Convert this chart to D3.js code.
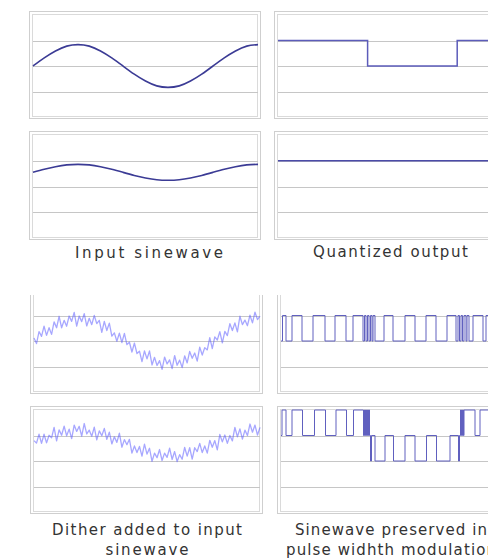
<!DOCTYPE html>
<html>
<head>
<meta charset="utf-8">
<script src="https://cdn.jsdelivr.net/npm/d3@7"></script>
<style>
  html, body { margin: 0; padding: 0; background: #fff; }
  svg { display: block; }
  .caption { font-family: "DejaVu Sans", sans-serif; fill: #333; }
</style>
</head>
<body>
<script>
/*
 * Dither / quantization illustration, 4 rows x 2 columns of small plots
 */

// x = phase in degrees (1.25 cycles per panel), y = quantizer level
const phaseDomain = [0, 450];
const levelDomain = [-2, 2];
const gridLevels = [-1, 0, 1];

const inputPhase = [0, 22.5, 45, 67.5, 90, 112.5, 135, 157.5, 180, 202.5, 225, 247.5, 270,
  292.5, 315, 337.5, 360, 382.5, 405, 427.5, 450];
const inputLarge = [0, 0.32, 0.59, 0.78, 0.84, 0.78, 0.59, 0.32, 0, -0.32, -0.59, -0.78, -0.84,
  -0.78, -0.59, -0.32, 0, 0.32, 0.59, 0.78, 0.84];
const inputSmall = [0.55, 0.67, 0.77, 0.84, 0.86, 0.84, 0.77, 0.67, 0.55, 0.43, 0.33, 0.26, 0.24,
  0.26, 0.33, 0.43, 0.55, 0.67, 0.77, 0.84, 0.86];

// quantized output, [phase, level] steps
const quantLarge = [[0, 1], [180, 0], [360, 1], [450, 1]];
const quantSmall = [[0, 1], [450, 1]];

// dithered input, one sample every 5 degrees
const ditherPhase = d3.range(0, 451, 5);
const ditherLarge = [0.12, -0.10, 0.37, 0.18, 0.58, 0.22, 0.52, 0.26, 0.75, 0.52, 0.97, 0.52, 0.81,
  0.58, 0.98, 0.77, 1.12, 0.58, 0.98, 0.76, 1.07, 0.59, 0.89, 0.64, 1.00, 0.68, 0.81, 0.34, 0.77,
  0.41, 0.70, 0.19, 0.32, -0.01, 0.31, -0.06, 0.30, -0.14, -0.05, -0.43, -0.08, -0.49, -0.40,
  -0.81, -0.39, -0.70, -0.39, -0.94, -0.64, -0.96, -0.77, -1.11, -0.63, -0.90, -0.74, -1.08, -0.57,
  -0.95, -0.75, -1.04, -0.58, -0.86, -0.41, -0.68, -0.47, -0.79, -0.24, -0.55, -0.26, -0.35, 0.13,
  -0.30, 0.16, 0.04, 0.37, -0.07, 0.38, 0.21, 0.68, 0.41, 0.71, 0.36, 0.97, 0.64, 0.82, 0.60, 1.01,
  0.71, 1.13, 0.84, 0.98];
const ditherSmall = [0.80, 0.70, 1.05, 0.69, 1.05, 0.71, 1.01, 0.91, 1.32, 0.79, 1.22, 1.01, 1.37,
  0.99, 1.25, 0.88, 1.41, 1.16, 1.36, 0.98, 1.47, 1.06, 1.21, 0.97, 1.33, 0.83, 1.18, 0.99, 1.28,
  0.85, 1.13, 0.67, 0.95, 0.73, 1.09, 0.54, 0.84, 0.64, 0.85, 0.31, 0.59, 0.33, 0.57, 0.19, 0.66,
  0.27, 0.50, -0.01, 0.31, 0.13, 0.45, 0.02, 0.31, 0.14, 0.50, 0.06, 0.37, -0.02, 0.25, 0.07, 0.53,
  0.19, 0.52, 0.07, 0.52, 0.37, 0.69, 0.33, 0.59, 0.31, 0.81, 0.54, 0.80, 0.44, 1.04, 0.75, 1.02,
  0.69, 1.00, 0.79, 1.32, 0.95, 1.26, 0.86, 1.21, 1.00, 1.45, 1.13, 1.41, 1.02, 1.32];

// quantized dithered signal (pulse width modulation), [phase, level] steps
const pwmLarge = [[0, 0], [3, 1], [10, 0], [22, 1], [42, 0], [64, 1], [88, 0], [108, 1], [130, 0],
  [144, 1], [164, 0], [167, 1], [170, 0], [173, 1], [176, 0], [179, 1], [182, 0], [184, 1], [188, 0],
  [206, 1], [224, 0], [248, 1], [268, 0], [290, 1], [310, 0], [332, 1], [350, 0], [354, 1], [357, 0],
  [360, 1], [363, 0], [366, 1], [370, 0], [372, 1], [376, 0], [384, 1], [404, 0], [410, 1], [450, 1]];
const pwmSmall = [[0, 1], [2, 2], [10, 1], [22, 2], [43, 1], [67, 2], [89, 1], [110, 2], [131, 1],
  [145, 2], [165, 1], [167, 2], [169, 1], [171, 2], [173, 1], [175, 2], [177, 1], [179, 0], [181, 1],
  [188, 0], [208, 1], [225, 0], [248, 1], [268, 0], [291, 1], [311, 0], [338, 1], [355, 0], [357, 1],
  [359, 2], [361, 1], [363, 2], [365, 1], [366, 2], [388, 1], [398, 2], [450, 2]];

const captionTopLeft = ['Input sinewave'];
const captionTopRight = ['Quantized output'];
const captionBottomLeft = ['Dither added to input', 'sinewave'];
const captionBottomRight = ['Sinewave preserved in', 'pulse widhth modulation'];

const svg = d3.select('body').append('svg')
  .attr('width', 488)
  .attr('height', 558);

const defs = svg.append('defs');
defs.append('clipPath').attr('id', 'cut-row3')
  .append('rect').attr('x', 0).attr('y', 295).attr('width', 488).attr('height', 110);
defs.append('filter').attr('id', 'soft')
  .attr('x', '-5%').attr('y', '-20%').attr('width', '110%').attr('height', '140%')
  .append('feGaussianBlur').attr('stdDeviation', 0.7);

// draws frame + grid, returns scales and the group
function panel(box, clip){
  const g = svg.append('g');
  if(clip) g.attr('clip-path', `url(#${clip})`);

  const x = d3.scaleLinear().domain(phaseDomain).range([box.x0, box.x1]);
  const y = d3.scaleLinear().domain(levelDomain).range([box.y1, box.y0]);

  g.append('rect')
    .attr('x', box.x0 - 3.5).attr('y', box.y0 - 3.5)
    .attr('width', box.x1 - box.x0 + 6).attr('height', box.y1 - box.y0 + 5)
    .attr('fill', '#fff').attr('stroke', '#cfcfcf');
  g.append('rect')
    .attr('x', box.x0 - 0.5).attr('y', box.y0 - 0.5)
    .attr('width', box.x1 - box.x0).attr('height', box.y1 - box.y0)
    .attr('fill', 'none').attr('stroke', '#dadada');

  const grid = g.append('g')
    .attr('transform', `translate(${box.x0},0)`)
    .call(d3.axisLeft(y).tickValues(gridLevels).tickSize(-(box.x1 - box.x0)).tickFormat(''));
  grid.select('.domain').remove();
  grid.selectAll('.tick line').attr('stroke', '#c6c6c6').attr('shape-rendering', 'crispEdges');

  return {g, x, y};
}

function smoothLine(p, phases, values, color, width){
  const line = d3.line()
    .x((d, i) => p.x(phases[i]))
    .y(d => p.y(d))
    .curve(d3.curveNatural);
  p.g.append('path').datum(values)
    .attr('d', line).attr('fill', 'none')
    .attr('stroke', color).attr('stroke-width', width);
}

function noisyLine(p, phases, values){
  const line = d3.line()
    .x((d, i) => p.x(phases[i]))
    .y(d => p.y(d));
  p.g.append('path').datum(values)
    .attr('d', line).attr('fill', 'none')
    .attr('stroke', '#5f5fff').attr('stroke-opacity', 0.55)
    .attr('stroke-width', 1.3).attr('stroke-linejoin', 'round')
    .attr('filter', 'url(#soft)');
}

function stepLine(p, steps, color, width){
  const line = d3.line()
    .x(d => p.x(d[0]))
    .y(d => p.y(d[1]))
    .curve(d3.curveStepAfter);
  p.g.append('path').datum(steps)
    .attr('d', line).attr('fill', 'none')
    .attr('stroke', color).attr('stroke-width', width);
}

function caption(lines, cx, y0, size, lengths){
  lines.forEach((t, i) => {
    svg.append('text')
      .attr('class', 'caption')
      .attr('x', cx).attr('y', y0 + i * 20)
      .attr('text-anchor', 'middle')
      .attr('font-size', size)
      .attr('textLength', lengths[i])
      .attr('lengthAdjust', 'spacing')
      .text(t);
  });
}

// row 1
const p1 = panel({x0: 33, x1: 258, y0: 15, y1: 117});
smoothLine(p1, inputPhase, inputLarge, '#3b3b95', 1.6);
const p2 = panel({x0: 278, x1: 502, y0: 15, y1: 117});
stepLine(p2, quantLarge, '#5c5cba', 1.5);

// row 2
const p3 = panel({x0: 33, x1: 258, y0: 135, y1: 238});
smoothLine(p3, inputPhase, inputSmall, '#3b3b95', 1.6);
const p4 = panel({x0: 278, x1: 502, y0: 135, y1: 238});
stepLine(p4, quantSmall, '#4b4ba8', 1.5);

caption(captionTopLeft, 149, 257.5, 15, [148]);
caption(captionTopRight, 390.5, 256.5, 15, [155]);

// row 3 (top of the panels is cut off)
const p5 = panel({x0: 34, x1: 260, y0: 290, y1: 392}, 'cut-row3');
noisyLine(p5, ditherPhase, ditherLarge);
const p6 = panel({x0: 281, x1: 506, y0: 290, y1: 392}, 'cut-row3');
stepLine(p6, pwmLarge, '#6060bf', 1);

// row 4
const p7 = panel({x0: 34, x1: 260, y0: 410, y1: 512});
noisyLine(p7, ditherPhase, ditherSmall);
const p8 = panel({x0: 281, x1: 506, y0: 410, y1: 512});
stepLine(p8, pwmSmall, '#6060bf', 1);

caption(captionBottomLeft, 147, 534.5, 15, [190, 83]);
caption(captionBottomRight, 391, 534.5, 15, [192, 210]);
</script>
</body>
</html>
